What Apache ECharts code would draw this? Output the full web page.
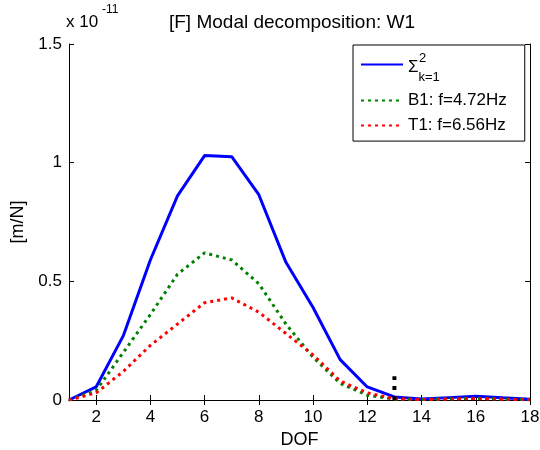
<!DOCTYPE html>
<html lang="en">
<head>
    <meta charset="UTF-8">
    <title>Modal decomposition W1</title>
    <script type="text/javascript" src="https://cdn.jsdelivr.net/npm/echarts@6/dist/echarts.min.js"></script>
</head>
<body style="margin:0;background:#fff">
<div id="main" style="width:540px;height:450px"></div>
<script type="text/javascript">
    // values in units of 1e-11 m/N
    var dof = [1, 2, 3, 4, 5, 6, 7, 8, 9, 10, 11, 12, 13, 14, 15, 16, 17, 18];
    var sumK = [0, 0.055, 0.27, 0.59, 0.86, 1.03, 1.025, 0.865, 0.58, 0.39, 0.17, 0.055, 0.013, 0.004, 0.01, 0.016, 0.009, 0.003];
    var b1 = [0, 0.04, 0.2, 0.36, 0.53, 0.62, 0.59, 0.49, 0.32, 0.18, 0.07, 0.02, 0.004, 0.002, 0.005, 0.007, 0.004, 0.001];
    var t1 = [0, 0.03, 0.12, 0.23, 0.32, 0.41, 0.43, 0.37, 0.28, 0.19, 0.08, 0.03, 0.005, 0.002, 0.004, 0.006, 0.003, 0.001];
    var marker = [[13, 0], [13, 0.1]];
    var xTicks = [2, 4, 6, 8, 10, 12, 14, 16, 18];

    function pairs(ys) {
        var out = [];
        for (var i = 0; i < dof.length; i++) out.push([dof[i], ys[i]]);
        return out;
    }

    var font = 'Liberation Sans, Arial, sans-serif';
    var myChart = echarts.init(document.getElementById('main'));
    myChart.setOption({
        animation: false,
        title: {
            text: '[F] Modal decomposition: W1',
            left: 287, top: 8, textAlign: 'center',
            textStyle: {fontFamily: font, fontSize: 19, fontWeight: 'normal', color: '#000'}
        },
        grid: {left: 69, right: 10, top: 44, bottom: 50, outerBoundsMode: 'none'},
        legend: {
            data: ['S', 'B1: f=4.72Hz', 'T1: f=6.56Hz'],
            orient: 'vertical',
            left: 353, top: 45,
            padding: [14, 18, 7, 7],
            itemGap: 8,
            itemWidth: 42, itemHeight: 14,
            backgroundColor: '#fff',
            borderColor: '#000', borderWidth: 1,
            itemStyle: {opacity: 0},
            textStyle: {
                fontFamily: font, fontSize: 17, color: '#000',
                rich: {
                    sig: {fontFamily: font, fontSize: 17, color: '#000', padding: [6, 0, 0, 0]},
                    sub: {fontFamily: font, fontSize: 13, color: '#000', padding: [26, 0, 0, 0]}
                }
            },
            formatter: function (name) {
                if (name === 'S') return '{sig|\u03A3}{sub|k=1}';
                return name;
            }
        },
        graphic: [
            {type: 'text', left: 419, top: 52, z: 200, style: {text: '2', font: '13px ' + font, fill: '#000'}},
            {type: 'text', left: 66, top: 14, style: {text: 'x 10', font: '17px ' + font, fill: '#000'}},
            {type: 'text', left: 102, top: 4, style: {text: '-11', font: '12px ' + font, fill: '#000'}}
        ],
        xAxis: [{
            type: 'value', min: 1, max: 18,
            name: 'DOF', nameLocation: 'middle', nameGap: 30,
            nameTextStyle: {fontFamily: font, fontSize: 18, color: '#000'},
            axisLine: {lineStyle: {color: '#000'}},
            axisTick: {inside: true, length: 5, customValues: xTicks, lineStyle: {color: '#000'}},
            axisLabel: {customValues: xTicks, fontFamily: font, fontSize: 17, color: '#000', margin: 9},
            splitLine: {show: false}
        }, {
            type: 'value', min: 1, max: 18, position: 'top',
            axisLine: {lineStyle: {color: '#000'}},
            axisTick: {inside: true, length: 5, customValues: xTicks, lineStyle: {color: '#000'}},
            axisLabel: {show: false},
            splitLine: {show: false}
        }],
        yAxis: [{
            type: 'value', min: 0, max: 1.5, interval: 0.5,
            name: '[m/N]', nameLocation: 'middle', nameGap: 33,
            nameTextStyle: {fontFamily: font, fontSize: 18, color: '#000'},
            axisLine: {show: true, lineStyle: {color: '#000'}},
            axisTick: {show: true, inside: true, length: 5, lineStyle: {color: '#000'}},
            axisLabel: {fontFamily: font, fontSize: 17, color: '#000', margin: 7},
            splitLine: {show: false}
        }, {
            type: 'value', min: 0, max: 1.5, interval: 0.5, position: 'right',
            axisLine: {show: true, lineStyle: {color: '#000'}},
            axisTick: {show: true, inside: true, length: 5, lineStyle: {color: '#000'}},
            axisLabel: {show: false},
            splitLine: {show: false}
        }],
        series: [
            {name: 'S', type: 'line', data: pairs(sumK), symbol: 'none',
                lineStyle: {color: '#0000ff', width: 3}, itemStyle: {color: '#0000ff'}},
            {name: 'B1: f=4.72Hz', type: 'line', data: pairs(b1), symbol: 'none',
                lineStyle: {color: '#008000', width: 3, type: [3, 4]}, itemStyle: {color: '#008000'}},
            {name: 'T1: f=6.56Hz', type: 'line', data: pairs(t1), symbol: 'none',
                lineStyle: {color: '#ff0000', width: 3, type: [3, 4]}, itemStyle: {color: '#ff0000'}},
            {name: 'mark', type: 'line', data: marker, symbol: 'none',
                lineStyle: {color: '#000', width: 4, type: [4, 6]}}
        ]
    });
</script>
</body>
</html>
